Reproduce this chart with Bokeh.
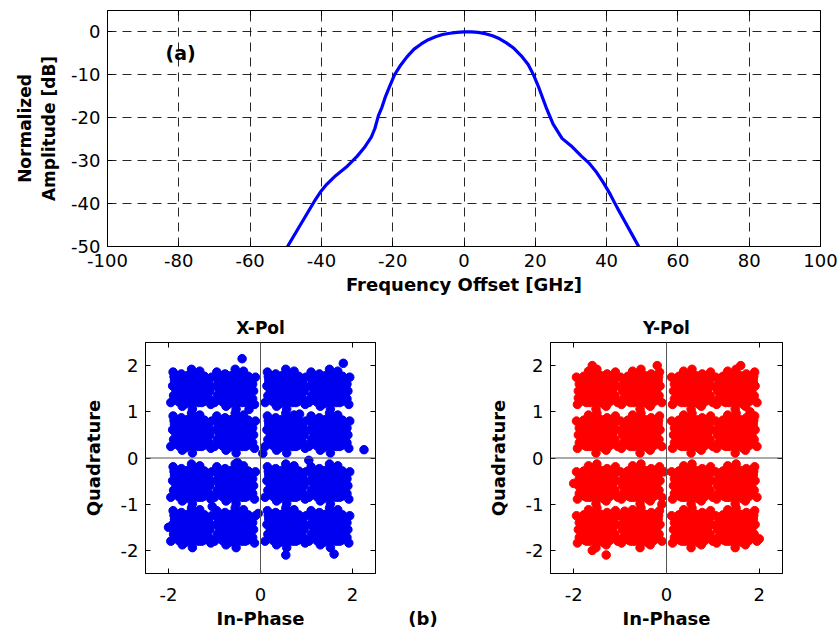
from bokeh.plotting import figure
from bokeh.layouts import column, row
from bokeh.models import Span, Label, LinearAxis, FixedTicker, Range1d
from bokeh.embed import file_html
from bokeh.resources import INLINE

FONT = "DejaVu Sans"

# ---- (a) spectrum ----
freq = [-49.5, -47, -44.5, -42, -40, -38.5, -36, -33, -30, -28, -26, -25, -24, -23, -22, -21,
        -19.5, -18, -16, -14, -12, -10, -8, -6, -4, -2, 0, 2, 4, 6, 8, 10, 12, 14, 16, 18,
        19.5, 21, 23, 25, 27.5, 30, 33, 35, 37, 39, 41, 43, 45, 47, 49]
amp = [-50, -46.5, -43, -39.5, -37, -35.5, -33.5, -31.5, -29, -27, -24.5, -22.5, -19.5, -17.5, -15, -13,
       -10, -8, -5.8, -4, -2.8, -1.8, -1.1, -0.6, -0.3, -0.1, 0, 0, -0.1, -0.4, -0.9, -1.6, -2.6, -3.8, -5.5, -7.6,
       -10, -13, -17.5, -21.5, -24.8, -26.5, -29, -30.5, -32.5, -35, -37.8, -41, -44, -47, -50]
x_ticks_a = [-100, -80, -60, -40, -20, 0, 20, 40, 60, 80, 100]
y_ticks_a = [-50, -40, -30, -20, -10, 0]

# ---- (b) constellations ----
centers = [-1.5, -0.55, 0.55, 1.5]
off_dx = [0.00, 0.12, -0.10, 0.05, -0.15, 0.22, -0.24, 0.02, 0.08, -0.06,
          0.18, -0.19, 0.27, -0.28, 0.30, -0.31, 0.14, -0.12, 0.05, -0.02,
          0.33, -0.34, 0.24, -0.23, 0.20, -0.22, 0.10, -0.08, 0.16, -0.17,
          0.36, -0.37, 0.35, -0.36, 0.00, 0.03, 0.28, -0.29, 0.26, -0.27,
          0.40, -0.41, 0.12, -0.14, 0.09, -0.05, 0.21, -0.20, 0.31, -0.32,
          0.07, -0.09, 0.15, -0.11, 0.38, -0.39, 0.44, -0.45, 0.18, -0.20,
          0.42, -0.40, 0.00, 0.02,
          0.06, -0.04, 0.18, -0.16, 0.25, -0.26, 0.11, -0.13, 0.30, -0.30,
          0.04, -0.07, 0.20, -0.21, 0.14, -0.15, 0.27, -0.25, 0.09, -0.10,
          0.33, -0.33, 0.23, -0.24, 0.01, -0.01, 0.17, -0.18, 0.35, -0.34,
          0.12, -0.12, 0.29, -0.29, 0.07, -0.06, 0.22, -0.22, 0.38, -0.38]
off_dy = [0.00, 0.05, 0.08, -0.12, -0.06, -0.02, 0.03, 0.18, -0.22, -0.20,
          0.15, 0.17, 0.12, -0.14, -0.10, 0.10, -0.16, 0.22, 0.25, -0.27,
          0.04, -0.02, 0.22, -0.23, -0.24, 0.25, 0.12, -0.10, 0.00, 0.00,
          0.20, 0.18, -0.22, -0.24, 0.30, -0.31, 0.27, 0.28, -0.28, -0.29,
          -0.05, 0.06, 0.32, -0.33, -0.05, 0.12, 0.08, -0.12, 0.16, -0.08,
          0.20, 0.28, -0.30, -0.25, 0.10, -0.15, 0.25, -0.30, 0.38, -0.38,
          -0.34, 0.36, 0.42, -0.44,
          0.08, -0.06, -0.08, 0.09, 0.05, -0.04, 0.26, -0.27, 0.24, -0.20,
          -0.15, 0.15, 0.19, -0.18, -0.04, 0.06, -0.20, 0.21, 0.30, -0.30,
          -0.16, 0.26, -0.12, 0.12, 0.10, -0.10, 0.28, -0.26, 0.00, 0.02,
          -0.06, 0.05, 0.04, 0.20, -0.28, 0.23, -0.30, 0.32, -0.22, 0.26]
x_out_i = [2.25, -0.40, 1.80, 0.55, 1.60, -2.00, 0.05, -0.50, -0.05, 1.05, -1.05, 0.85, -0.25]
x_out_q = [0.18, 2.15, 2.05, -2.10, -2.08, -1.50, 0.10, -0.10, -1.20, -0.05, -1.05, 0.95, 1.05]
y_out_i = [2.00, -1.30, -1.60, -2.00, -0.05, -0.10, -0.90, 1.85, -1.60, -0.20, 1.60, -1.90, 1.80]
y_out_q = [-1.75, -2.10, -2.00, -0.55, -0.30, -1.00, -1.15, 0.45, 2.00, 2.00, 2.00, 1.30, 1.00]
ticks_b = [-2, 0, 2]
ticks_bq = [-2, -1, 0, 1, 2]


def cloud(sign_x, sign_y, extra_i, extra_q):
    xi, xq = [], []
    for cx in centers:
        for cy in centers:
            for dx, dy in zip(off_dx, off_dy):
                xi.append(cx + sign_x * dx)
                xq.append(cy + sign_y * dy)
    return xi + extra_i, xq + extra_q


def style_axes(p, xt, yt, tick_size="18px", label_size="18px"):
    bx = p.xaxis[0]
    ly = p.yaxis[0]
    for ax in (bx, ly):
        ax.major_tick_in = 5
        ax.major_tick_out = 0
        ax.minor_tick_line_color = None
        ax.axis_line_color = "black"
        ax.major_tick_line_color = "black"
        ax.major_label_text_font = FONT
        ax.major_label_text_font_size = tick_size
        ax.major_label_text_color = "black"
        ax.axis_label_text_font = FONT
        ax.axis_label_text_font_style = "bold"
        ax.axis_label_text_font_size = label_size
        ax.axis_label_text_color = "black"
    bx.ticker = FixedTicker(ticks=xt)
    ly.ticker = FixedTicker(ticks=yt)
    bx.major_label_overrides = {t: str(t) for t in xt}
    ly.major_label_overrides = {t: str(t) for t in yt}
    top = LinearAxis(ticker=FixedTicker(ticks=xt), major_label_text_color=None,
                     major_tick_in=5, major_tick_out=0, minor_tick_line_color=None,
                     major_label_standoff=0, axis_line_color="black", major_tick_line_color="black")
    right = LinearAxis(ticker=FixedTicker(ticks=yt), major_label_text_color=None,
                       major_tick_in=5, major_tick_out=0, minor_tick_line_color=None,
                       major_label_standoff=0, axis_line_color="black", major_tick_line_color="black")
    p.add_layout(top, "above")
    p.add_layout(right, "right")
    p.outline_line_color = "black"
    p.outline_line_alpha = 1
    return bx, ly


# Top figure
pa = figure(width=839, height=305, x_range=Range1d(-100, 100), y_range=Range1d(-50, 5),
            output_backend="svg", toolbar_location=None,
            min_border_left=107, min_border_right=19, min_border_top=10, min_border_bottom=59)
pa.line(freq, amp, line_color="#0000ff", line_width=3.2)
ax_x, ax_y = style_axes(pa, x_ticks_a, y_ticks_a, "18px", "17px")
ax_x.axis_label = "Frequency Offset [GHz]"
ax_x.axis_label_text_font_size = "18px"
ax_y.axis_label = "Normalized\nAmplitude [dB]"
ax_x.major_label_standoff = 7
ax_x.axis_label_standoff = 4
ax_y.major_label_standoff = 7
ax_y.axis_label_standoff = 9
pa.xgrid.ticker = FixedTicker(ticks=x_ticks_a)
pa.ygrid.ticker = FixedTicker(ticks=y_ticks_a)
for g in (pa.xgrid, pa.ygrid):
    g.grid_line_color = "black"
    g.grid_line_alpha = 0.85
    g.grid_line_dash = "9 6"
    g.grid_line_width = 1
pa.add_layout(Label(x=-79.5, y=-5, text="(a)", text_font=FONT, text_font_style="bold",
                    text_color="black", text_font_size="19px", text_align="center",
                    text_baseline="middle"))


def constellation(xi, xq, color, title, width, left, right):
    q = figure(width=width, height=329, x_range=Range1d(-2.5, 2.5), y_range=Range1d(-2.5, 2.5),
               output_backend="svg", toolbar_location=None, title=title,
               min_border_left=left, min_border_right=right, min_border_top=37, min_border_bottom=61)
    q.title.align = "center"
    q.title.text_font = FONT
    q.title.text_font_style = "bold"
    q.title.text_font_size = "17px"
    q.title.text_color = "black"
    q.scatter(xi, xq, size=8.5, fill_color=color, line_color=color)
    q.xgrid.visible = False
    q.ygrid.visible = False
    q.add_layout(Span(location=0, dimension="width", line_color="#555555", line_width=1))
    q.add_layout(Span(location=0, dimension="height", line_color="#555555", line_width=1))
    bx, ly = style_axes(q, ticks_b, ticks_bq, "18px", "18px")
    bx.axis_label = "In-Phase"
    ly.axis_label = "Quadrature"
    bx.major_label_standoff = 14
    bx.axis_label_standoff = 4
    ly.major_label_standoff = 7
    ly.axis_label_standoff = 14
    return q


xi, xq = cloud(1, 1, x_out_i, x_out_q)
yi, yq = cloud(-1, 1, y_out_i, y_out_q)
pb1 = constellation(xi, xq, "#0000f0", "X-Pol", 400, 145, 25)
pb2 = constellation(yi, yq, "#ff0000", "Y-Pol", 394, 105, 57)

# small panel whose bottom axis carries the "(b)" tag
pm = figure(width=45, height=329, x_range=Range1d(0, 1), y_range=Range1d(0, 1),
            output_backend="svg", toolbar_location=None,
            min_border_left=0, min_border_right=0, min_border_top=37, min_border_bottom=61)
pm.yaxis.visible = False
pm.grid.visible = False
pm.outline_line_color = None
pm.xaxis.ticker = FixedTicker(ticks=[])
pm.xaxis.axis_line_color = None
pm.xaxis.major_tick_line_color = None
pm.xaxis.minor_tick_line_color = None
pm.xaxis.axis_label = "(b)"
pm.xaxis.axis_label_text_font = FONT
pm.xaxis.axis_label_text_font_style = "bold"
pm.xaxis.axis_label_text_font_size = "18px"
pm.xaxis.axis_label_text_color = "black"
pm.xaxis.axis_label_standoff = 34

layout = column(pa, row(pb1, pm, pb2))
open("out.html", "w").write(file_html(layout, INLINE))
